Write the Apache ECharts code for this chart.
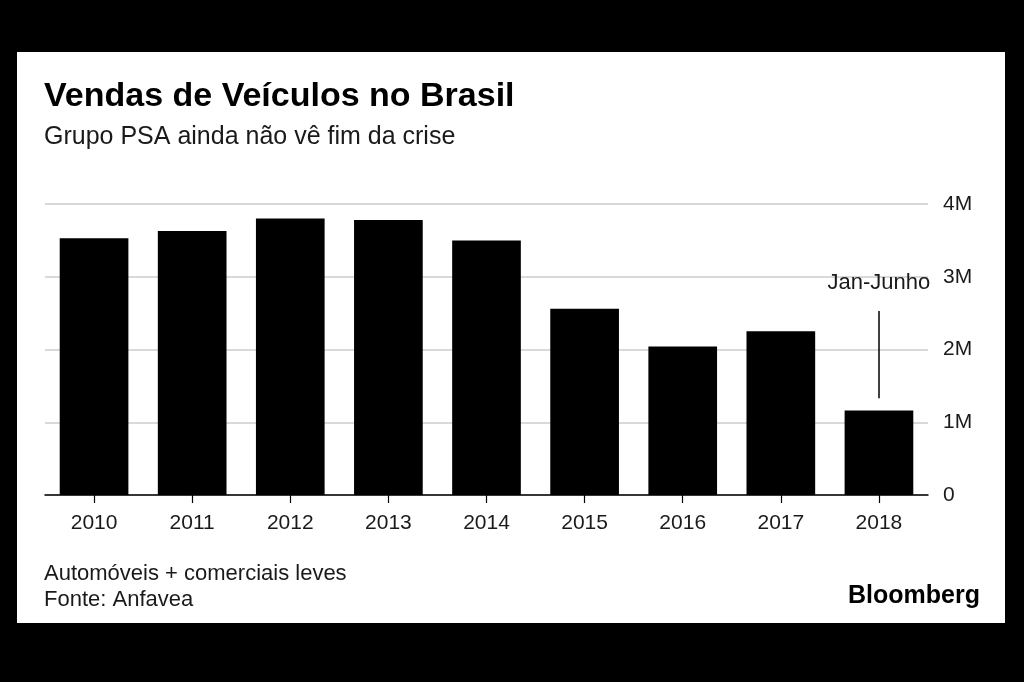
<!DOCTYPE html>
<html><head><meta charset="utf-8">
<script src="https://cdn.jsdelivr.net/npm/echarts@6/dist/echarts.min.js"></script>
<style>html,body{margin:0;padding:0;background:#000;}#c{width:1024px;height:682px;}</style>
</head><body><div id="c"></div>
<script>
const categories = ['2010','2011','2012','2013','2014','2015','2016','2017','2018'];
const sales = [3.53, 3.63, 3.80, 3.78, 3.50, 2.56, 2.04, 2.25, 1.16]; // millions
const yTicks = [0, 1, 2, 3, 4];
const titleText = 'Vendas de Veículos no Brasil';
const subtitleText = 'Grupo PSA ainda não vê fim da crise';
const noteText = 'Automóveis + comerciais leves';
const sourceText = 'Fonte: Anfavea';
const annotText = 'Jan-Junho';
const FONT = "'Liberation Sans', Arial, Helvetica, sans-serif";

const chart = echarts.init(document.getElementById('c'));
chart.setOption({
  backgroundColor: '#000',
  animation: false,
  grid: { left: 45, right: 96, top: 204, bottom: 187, containLabel: false },
  xAxis: {
    type: 'category', data: categories,
    axisLine: { lineStyle: { color: '#000', width: 1.5 } },
    axisTick: { show: true, alignWithLabel: true, length: 8, lineStyle: { color: '#000', width: 1.2 } },
    axisLabel: { color: '#1a1a1a', fontSize: 21, fontFamily: FONT, margin: 18 }
  },
  yAxis: {
    type: 'value', position: 'right', min: 0, max: 4, interval: 1,
    axisLine: { show: false }, axisTick: { show: false },
    splitLine: { lineStyle: { color: '#d9d9d9', width: 2 } },
    axisLabel: { color: '#1a1a1a', fontSize: 21, fontFamily: FONT, margin: 15, align: 'left',
      formatter: v => yTicks.includes(v) ? (v === 0 ? '0' : v + 'M') : '' }
  },
  series: [{
    type: 'bar', data: sales, barCategoryGap: '30%',
    itemStyle: { color: '#000' },
    markLine: {
      silent: true, symbol: ['none', 'none'],
      lineStyle: { color: '#000', width: 1.5, type: 'solid' },
      label: { show: false },
      data: [[{ coord: ['2018', 2.53] }, { coord: ['2018', 1.33] }]]
    },
    markPoint: {
      silent: true, symbol: 'circle', symbolSize: 0,
      label: { show: true, formatter: annotText, color: '#1a1a1a', fontSize: 22, fontFamily: FONT },
      data: [{ coord: ['2018', 2.92] }]
    }
  }],
  graphic: [
    { type: 'rect', z: -100, shape: { x: 17, y: 52, width: 988, height: 571 }, style: { fill: '#fff' } },
    { type: 'text', x: 44, y: 97, style: { text: titleText, fill: '#000', font: "bold 34px " + FONT, verticalAlign: 'middle' } },
    { type: 'text', x: 44, y: 137, style: { text: subtitleText, fill: '#1a1a1a', font: "25px " + FONT, verticalAlign: 'middle' } },
    { type: 'text', x: 44, y: 574, style: { text: noteText, fill: '#1a1a1a', font: "22px " + FONT, verticalAlign: 'middle' } },
    { type: 'text', x: 44, y: 600, style: { text: sourceText, fill: '#1a1a1a', font: "22px " + FONT, verticalAlign: 'middle' } },
    { type: 'text', x: 980, y: 596, style: { text: 'Bloomberg', fill: '#000', font: "bold 25px " + FONT, verticalAlign: 'middle', align: 'right' } }
  ]
});
</script></body></html>
